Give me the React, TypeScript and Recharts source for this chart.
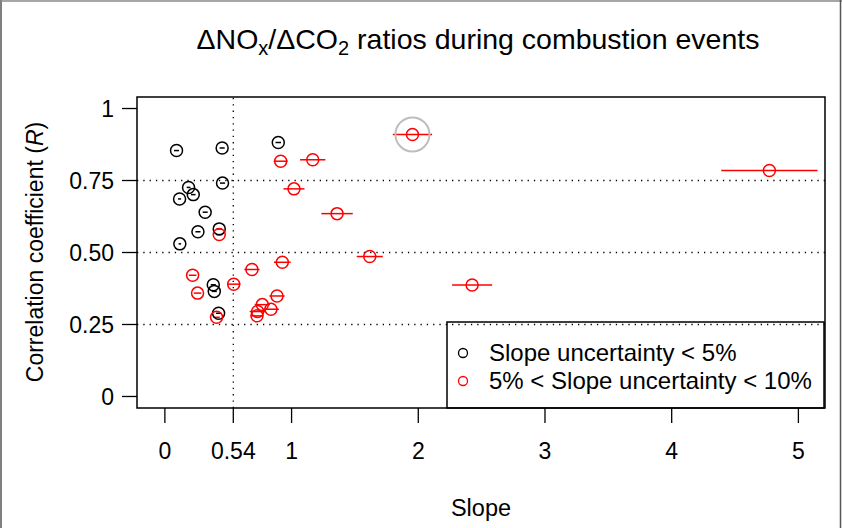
import React from "react";
import {
  ScatterChart,
  Scatter,
  XAxis,
  YAxis,
  ErrorBar,
  ReferenceLine,
  ReferenceArea,
  ReferenceDot,
} from "recharts";

// Black series: slope uncertainty < 5%
const blackSlope = [0.092, 0.452, 0.895, 0.455, 0.187, 0.224, 0.116, 0.318, 0.261, 0.429, 0.118, 0.382, 0.39, 0.424];
const blackR = [0.854, 0.863, 0.882, 0.741, 0.726, 0.701, 0.686, 0.64, 0.572, 0.582, 0.53, 0.388, 0.365, 0.289];
const blackErr = [0.02, 0.02, 0.022, 0.02, 0.015, 0.018, 0.012, 0.02, 0.02, 0.02, 0.01, 0.02, 0.02, 0.02];

// Red series: 5% < slope uncertainty < 10%
const redSlope = [1.954, 0.914, 1.167, 1.019, 1.359, 0.429, 1.617, 0.927, 0.687, 0.543, 0.219, 0.258, 2.425, 0.885, 0.769, 0.837, 0.732, 0.727, 0.408, 4.771];
const redR = [0.91, 0.817, 0.822, 0.721, 0.635, 0.5625, 0.486, 0.466, 0.441, 0.39, 0.421, 0.359, 0.387, 0.349, 0.319, 0.303, 0.295, 0.28, 0.275, 0.785];
const redErr = [0.155, 0.055, 0.1, 0.083, 0.124, 0.025, 0.103, 0.066, 0.06, 0.053, 0.03, 0.03, 0.158, 0.06, 0.06, 0.063, 0.063, 0.05, 0.025, 0.38];

// Highlighted event
const highlight = { x: 1.954, y: 0.91 };

const xTicks = [0, 0.54, 1, 2, 3, 4, 5];
const yTicks = [0, 0.25, 0.5, 0.75, 1];
const xRefLine = 0.54;
const yRefLines = [0.25, 0.5, 0.75];
const xDomain: [number, number] = [-0.22, 5.21];
const yDomain: [number, number] = [-0.04, 1.04];

const blackData = blackSlope.map((x, i) => ({ x, y: blackR[i], err: blackErr[i] }));
const redData = redSlope.map((x, i) => ({ x, y: redR[i], err: redErr[i] }));

const FONT = '"Liberation Sans", Arial, Helvetica, sans-serif';

const makeCircle = (color: string) => (p: any) => (
  <circle cx={p.cx} cy={p.cy} r={6} fill="none" stroke={color} strokeWidth={1.5} />
);

const yFmt = (v: number) => (v === 0 ? "0" : v === 1 ? "1" : v.toFixed(2));

export default function App() {
  return (
    <div style={{ position: "absolute", left: 0, top: 0, width: 842, height: 528, background: "#fff", fontFamily: FONT }}>
      <ScatterChart width={842} height={528} margin={{ top: 97, right: 17, bottom: 80, left: 77 }}>
        <XAxis
          type="number"
          dataKey="x"
          domain={xDomain}
          ticks={xTicks}
          allowDataOverflow
          axisLine={false}
          tickLine={{ stroke: "#000", strokeWidth: 1.3 }}
          tickSize={15}
          tickMargin={20}
          height={40}
          tick={{ fill: "#000", fontSize: 23, fontFamily: FONT }}
          tickFormatter={(v: number) => String(v)}
        />
        <YAxis
          type="number"
          dataKey="y"
          domain={yDomain}
          ticks={yTicks}
          allowDataOverflow
          axisLine={false}
          tickLine={{ stroke: "#000", strokeWidth: 1.3 }}
          tickSize={15}
          tickMargin={8}
          width={60}
          tick={{ fill: "#000", fontSize: 23, fontFamily: FONT }}
          tickFormatter={yFmt}
        />
        <ReferenceArea
          x1={xDomain[0]}
          x2={xDomain[1]}
          y1={yDomain[0]}
          y2={yDomain[1]}
          fill="none"
          fillOpacity={0}
          stroke="#000"
          strokeWidth={1.5}
          ifOverflow="visible"
        />
        <ReferenceLine x={xRefLine} stroke="#000" strokeWidth={1.3} strokeDasharray="1.3 5" />
        {yRefLines.map((v) => (
          <ReferenceLine key={v} y={v} stroke="#000" strokeWidth={1.3} strokeDasharray="1.3 5" />
        ))}
        <ReferenceDot x={highlight.x} y={highlight.y} r={17} fill="none" stroke="#bdbdbd" strokeWidth={2} />
        <Scatter data={blackData} isAnimationActive={false} shape={makeCircle("#000")}>
          <ErrorBar dataKey="err" direction="x" width={0} stroke="#000" strokeWidth={1.5} isAnimationActive={false} />
        </Scatter>
        <Scatter data={redData} isAnimationActive={false} shape={makeCircle("#ff0000")}>
          <ErrorBar dataKey="err" direction="x" width={0} stroke="#ff0000" strokeWidth={1.5} isAnimationActive={false} />
        </Scatter>
      </ScatterChart>
      <svg
        width={842}
        height={528}
        style={{ position: "absolute", left: 0, top: 0, pointerEvents: "none" }}
        fontFamily={FONT}
      >
        <line x1={1} y1={0} x2={1} y2={528} stroke="#555" strokeWidth={1.5} />
        <line x1={0} y1={1} x2={842} y2={1} stroke="#888" strokeWidth={1.5} />
        <line x1={840.5} y1={0} x2={840.5} y2={528} stroke="#555" strokeWidth={1.5} />
        <text x={478} y={49} textAnchor="middle" fontSize={28.5} fill="#000">
          ΔNO<tspan fontSize={20} dy={6}>x</tspan>
          <tspan dy={-6}>/ΔCO</tspan>
          <tspan fontSize={20} dy={6}>2</tspan>
          <tspan dy={-6}> ratios during combustion events</tspan>
        </text>
        <text x={481} y={516} textAnchor="middle" fontSize={23.5} fill="#000">Slope</text>
        <text transform="translate(43,252) rotate(-90)" textAnchor="middle" fontSize={23} fill="#000">
          Correlation coefficient (<tspan fontStyle="italic">R</tspan>)
        </text>
        <rect x={447} y={322} width={377} height={86} fill="none" stroke="#000" strokeWidth={1.5} />
        <circle cx={463} cy={353} r={4.5} fill="none" stroke="#000" strokeWidth={1.3} />
        <text x={489} y={361} fontSize={24} fill="#000">Slope uncertainty &lt; 5%</text>
        <circle cx={463} cy={381} r={4.5} fill="none" stroke="#ff0000" strokeWidth={1.3} />
        <text x={489} y={389} fontSize={24} fill="#000">5% &lt; Slope uncertainty &lt; 10%</text>
      </svg>
    </div>
  );
}
